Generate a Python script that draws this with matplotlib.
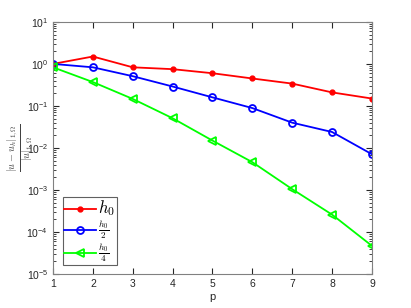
import matplotlib
matplotlib.use("Agg")
import matplotlib.pyplot as plt

plt.rcParams['font.family'] = ['Liberation Sans', 'DejaVu Sans']
plt.rcParams['mathtext.fontset'] = 'cm'

p = [1, 2, 3, 4, 5, 6, 7, 8, 9]
err_h0 = [1.0, 1.5, 0.83, 0.75, 0.6, 0.45, 0.34, 0.21, 0.15]
err_h0_2 = [1.0, 0.83, 0.51, 0.29, 0.16, 0.089, 0.040, 0.024, 0.0071]
err_h0_4 = [0.83, 0.37, 0.147, 0.051, 0.015, 0.0046, 0.00105, 0.00026, 0.000047]

fig = plt.figure(figsize=(4.11, 3.08), dpi=100)
ax = fig.add_axes([0.129, 0.110, 0.776, 0.819])

ax.semilogy(p, err_h0, '-', color='red', marker='o', markersize=3.5, lw=1.3,
            markerfacecolor='red', label=r'$h_0$')
ax.semilogy(p, err_h0_2, '-', color='blue', marker='o', markersize=5, lw=1.3,
            markerfacecolor='none', markeredgewidth=1.3, label=r'$\frac{h_0}{2}$')
ax.semilogy(p, err_h0_4, '-', color='#00ff00', marker='<', markersize=5.5, lw=1.3,
            markerfacecolor='none', markeredgewidth=1.3, label=r'$\frac{h_0}{4}$')

ax.set_xlim(1, 9)
ax.set_ylim(1e-5, 10)
ax.set_xticks(p)
ax.tick_params(which='both', direction='in', top=True, right=True,
               labelsize=7.5, colors='#262626', labelcolor='#262626')
ax.tick_params(which='major', length=4)
ax.tick_params(which='minor', length=2)
for s in ax.spines.values():
    s.set_color('#808080')
    s.set_linewidth(0.8)

ax.set_xlabel('p', fontsize=8, color='#262626')
ax.xaxis.set_label_coords(0.5, -0.072)
ax.set_ylabel(r'$\frac{|u-u_h|_{1,\Omega}}{|u|_{1,\Omega}}$', fontsize=10.5, color='#404040')
ax.yaxis.label.set_va('center')
ax.yaxis.set_label_coords(-0.1, 0.5)

leg = ax.legend(loc='lower left', bbox_to_anchor=(0.03, 0.035), fontsize=9.5,
                fancybox=False, framealpha=1, edgecolor='#606060',
                borderaxespad=0.0, handlelength=2.4, labelspacing=0.0,
                borderpad=0.1, handletextpad=0.2, handleheight=0.5)
leg.get_frame().set_linewidth(0.8)
leg.get_texts()[0].set_fontsize(12)

fig.savefig('out.png', dpi=100)
